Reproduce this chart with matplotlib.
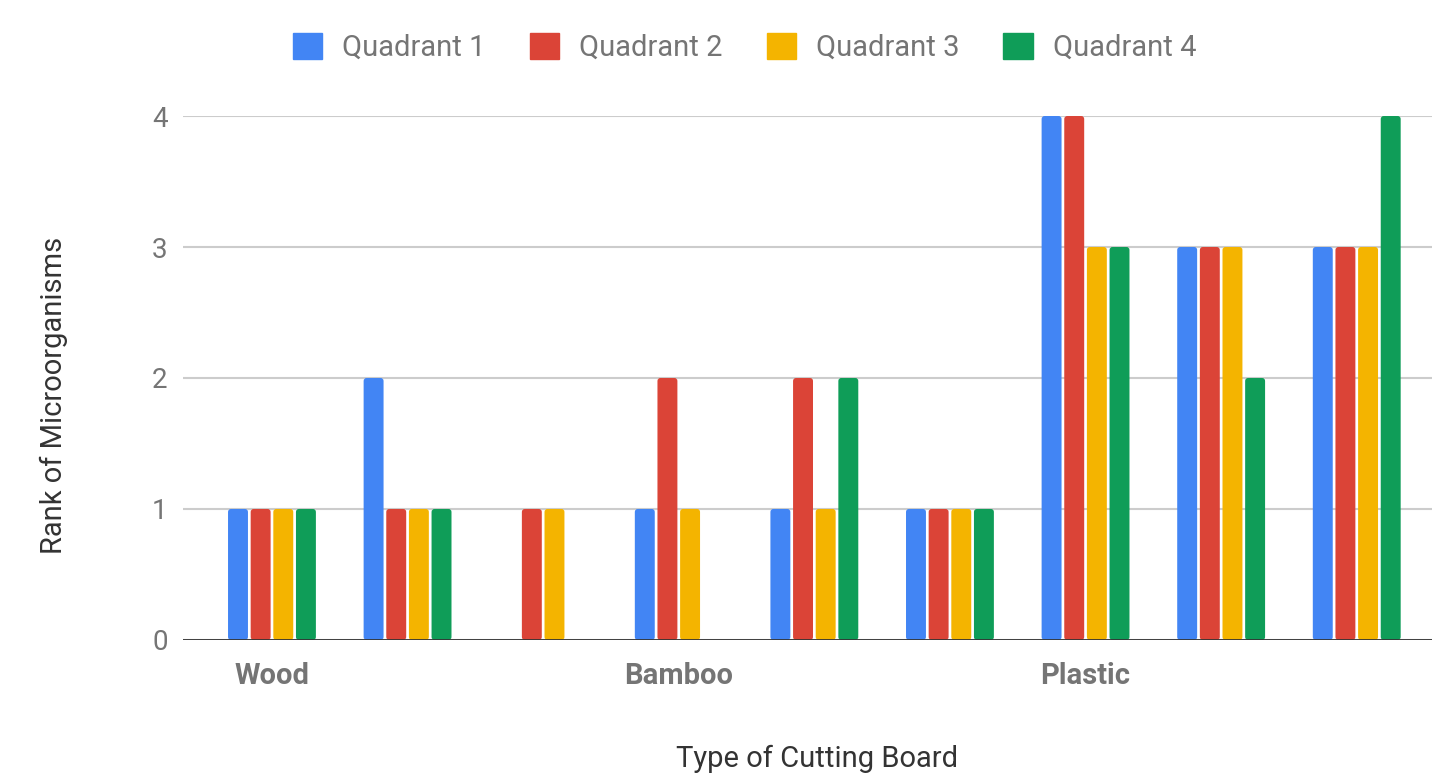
import numpy as np
import matplotlib.pyplot as plt
from matplotlib.patches import Patch, FancyBboxPatch

plt.rcParams['font.family'] = ['Roboto', 'DejaVu Sans']

# one entry per group of bars, 9 groups
quadrant_1 = [1, 2, 0, 1, 1, 1, 4, 3, 3]
quadrant_2 = [1, 1, 1, 2, 2, 1, 4, 3, 3]
quadrant_3 = [1, 1, 1, 1, 1, 1, 3, 3, 3]
quadrant_4 = [1, 1, 0, 0, 2, 1, 3, 2, 4]
series_names = ["Quadrant 1", "Quadrant 2", "Quadrant 3", "Quadrant 4"]
colors = ["#4285f4", "#db4437", "#f4b400", "#0f9d58"]
tick_positions = [0, 3, 6]
tick_labels = ["Wood", "Bamboo", "Plastic"]


def draw():
    fig = plt.figure(figsize=(14.32, 7.76), dpi=100)
    ax = fig.add_axes([0.1278, 0.1753, 0.8722, 0.6752])

    x = np.arange(len(quadrant_1))
    slot = 0.167
    width = 0.147
    data = [quadrant_1, quadrant_2, quadrant_3, quadrant_4]
    for i, vals in enumerate(data):
        bars = ax.bar(x + (i - 1.5) * slot, vals, width, color=colors[i], zorder=3)
        # swap plain rectangles for slightly rounded ones
        for b in bars:
            if b.get_height() <= 0:
                b.remove()
                continue
            rb = FancyBboxPatch((b.get_x(), b.get_y()), b.get_width(), b.get_height(),
                                boxstyle="round,pad=0,rounding_size=0.022",
                                mutation_aspect=1.035, facecolor=colors[i],
                                edgecolor="none", zorder=3, clip_on=False)
            b.remove()
            ax.add_patch(rb)

    ax.set_xlim(-0.656, 8.555)
    ax.set_ylim(0, 4)
    ax.set_yticks([0, 1, 2, 3, 4])
    ax.yaxis.grid(True, color="#cccccc", linewidth=1.5, zorder=0)
    ax.axhline(0, color="#333333", linewidth=2, zorder=4)
    for s in ax.spines.values():
        s.set_visible(False)
    ax.tick_params(axis="y", length=0, pad=11, labelsize=20, labelcolor="#757575")
    ax.tick_params(axis="x", length=0, pad=16, labelsize=21, labelcolor="#757575")
    ax.set_xticks(tick_positions)
    ax.set_xticklabels(tick_labels, fontweight="bold")

    ax.set_xlabel("Type of Cutting Board", fontsize=21, color="#333333")
    ax.set_ylabel("Rank of Microorganisms", fontsize=21, color="#333333")
    ax.xaxis.set_label_coords(0.5076, -0.2)
    ax.yaxis.set_label_coords(-0.092, 0.4676)

    handles = [Patch(facecolor=c, edgecolor=c) for c in colors]
    fig.legend(handles, series_names, loc="center", bbox_to_anchor=(0.52, 0.939), ncol=4,
               frameon=False, fontsize=21, labelcolor="#757575", handlelength=1.0,
               handleheight=1.0, columnspacing=1.5, handletextpad=0.7)

    fig.savefig("out.png", dpi=100)


if __name__ == "__main__":
    draw()
